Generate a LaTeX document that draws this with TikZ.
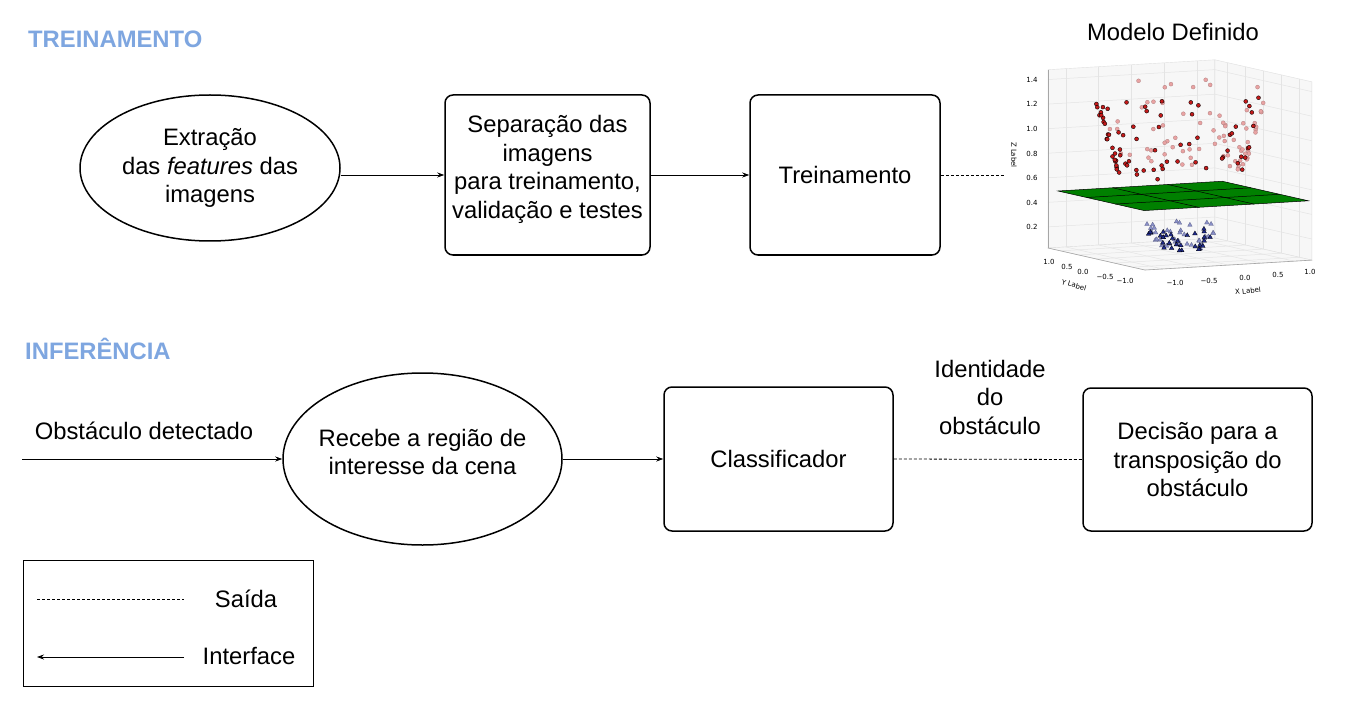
\documentclass[tikz,border=0pt]{standalone}
\usepackage{fontspec}
\setmainfont{Liberation Sans}
\newfontfamily\plotfont{DejaVu Sans}
\usetikzlibrary{arrows.meta,shapes.geometric}
\definecolor{hdrblue}{HTML}{7EA6E0}
\definecolor{plgreen}{HTML}{008000}
\definecolor{reddark}{HTML}{C41A1A}
\definecolor{redlight}{HTML}{E9A3A3}
\definecolor{redlightedge}{HTML}{B08080}
\definecolor{bluedark}{HTML}{1F2A8C}
\definecolor{bluelight}{HTML}{8A90C8}
\definecolor{panefill}{HTML}{F7F7F7}
\definecolor{gridc}{HTML}{E4E4E4}
\begin{document}
\begin{tikzpicture}[x=1pt,y=-1pt,
  txt/.style={font=\fontsize{23.8}{28.5}\selectfont, align=center, inner sep=0},
  box/.style={draw, line width=1.5pt, rounded corners=8pt, inner sep=0, font=\fontsize{23.8}{28.5}\selectfont, align=center},
  oval/.style={draw, ellipse, line width=1.5pt, inner sep=0},
  arr/.style={-{Stealth[length=7pt,width=5pt]}, line width=0.8pt},
  dsh/.style={dash pattern=on 3pt off 2pt, line width=0.8pt},
  hdr/.style={font=\bfseries\fontsize{23.8}{28}\selectfont, text=hdrblue, anchor=base west, inner sep=0},
  pane/.style={fill=panefill, draw=gray!25, line width=0.4pt},
  gridl/.style={draw=gridc, line width=0.5pt},
  axl/.style={draw=gray!70, line width=0.6pt},
  tick/.style={font=\plotfont\fontsize{7}{8}\selectfont, inner sep=0},
]
\useasboundingbox (0,0) rectangle (1348,703);
\fill[white] (0,0) rectangle (1348,703);

% ---------- headers ----------
\node[hdr] (h1) at (28,48) {TREINAMENTO};
\node[hdr] (h2) at (25,359) {INFERÊNCIA};

% ---------- training row ----------
\node[oval, minimum width=260pt, minimum height=146pt] (e1) at (210,168) {};
\node[txt] (e1t) at (210,168) {Extração\\das \textit{features} das\\imagens};
\node[box, minimum width=205pt, minimum height=160pt] (b2) at (547.5,175) {};
\node[txt] (b2t) at (547.5,169.5) {Separação das\\imagens\\para treinamento,\\validação e testes};
\node[box, minimum width=190pt, minimum height=160pt] (b3) at (845,175) {Treinamento};
\draw[arr] (e1.east |- b2.west) -- (b2.west);
\draw[arr] (b2.east) -- (b3.west);
\coordinate (pl) at (1005,175);
\draw[dsh] (b3.east) -- (pl);
\node[txt] (md) at (1173,32) {Modelo Definido};

% ---------- 3D plot ----------
\begin{scope}[shift={(1179.9,257.5)}, x={(65.7pt,3.9pt)}, y={(-35.9pt,8.15pt)}, z={(0pt,122.8pt)}]
  \def\xa{-1.27}\def\xb{1.27}\def\ya{-1.35}\def\yb{1.35}\def\za{0.028}\def\zb{1.48}
  \path[pane] (\xa,\yb,\za) -- (\xb,\yb,\za) -- (\xb,\yb,\zb) -- (\xa,\yb,\zb) -- cycle;
  \path[pane] (\xb,\ya,\za) -- (\xb,\yb,\za) -- (\xb,\yb,\zb) -- (\xb,\ya,\zb) -- cycle;
  \path[pane] (\xa,\ya,\za) -- (\xb,\ya,\za) -- (\xb,\yb,\za) -- (\xa,\yb,\za) -- cycle;
  \foreach \t in {-1,-0.5,0,0.5,1} {
    \draw[gridl] (\t,\yb,\za) -- (\t,\yb,\zb);
    \draw[gridl] (\t,\ya,\za) -- (\t,\yb,\za);
    \draw[gridl] (\xb,\t,\za) -- (\xb,\t,\zb);
    \draw[gridl] (\xa,\t,\za) -- (\xb,\t,\za);
  }
  \foreach \t in {0.2,0.4,0.6,0.8,1.0,1.2,1.4} {
    \draw[gridl] (\xa,\yb,\t) -- (\xb,\yb,\t) -- (\xb,\ya,\t);
  }
  \draw[axl] (\xa,\yb,\za) -- (\xa,\yb,\zb);
  \draw[axl] (\xa,\yb,\za) -- (\xa,\ya,\za) -- (\xb,\ya,\za);
  % blue triangles (far first, then near)
  \pgfmathsetseed{11}
  \foreach \i in {1,...,70} {
    \pgfmathsetmacro\th{360*rnd}
    \pgfmathsetmacro\rr{0.4+0.13*rand}
    \pgfmathsetmacro\px{\rr*cos(\th)}
    \pgfmathsetmacro\py{\rr*sin(\th)}
    \pgfmathsetmacro\pz{\rr*\rr}
    \pgfmathsetmacro\dep{\px+\py}
    \ifdim \dep pt > 0.05pt
      \filldraw[fill=bluelight, draw=bluelight!70!black, line width=0.3pt] (\px,\py,\pz) ++(0pt,2.6pt) -- ++(-2.3pt,-4pt) -- ++(4.6pt,0pt) -- cycle;
    \fi
  }
  \pgfmathsetseed{11}
  \foreach \i in {1,...,70} {
    \pgfmathsetmacro\th{360*rnd}
    \pgfmathsetmacro\rr{0.4+0.13*rand}
    \pgfmathsetmacro\px{\rr*cos(\th)}
    \pgfmathsetmacro\py{\rr*sin(\th)}
    \pgfmathsetmacro\pz{\rr*\rr}
    \pgfmathsetmacro\dep{\px+\py}
    \ifdim \dep pt > 0.05pt \else
      \filldraw[fill=bluedark, draw=black, line width=0.3pt] (\px,\py,\pz) ++(0pt,2.6pt) -- ++(-2.3pt,-4pt) -- ++(4.6pt,0pt) -- cycle;
    \fi
  }
  % plane
  \filldraw[fill=plgreen, draw=black, line width=0.5pt] (-1.2,-1.2,0.5) -- (1.3,-1.2,0.5) -- (1.3,1.2,0.5) -- (-1.2,1.2,0.5) -- cycle;
  \foreach \t in {-0.37,0.47} {
    \draw[black, line width=0.5pt] (\t,-1.2,0.5) -- (\t,1.2,0.5);
  }
  \foreach \t in {-0.4,0.4} {
    \draw[black, line width=0.5pt] (-1.2,\t,0.5) -- (1.3,\t,0.5);
  }
  % red dots
  \pgfmathsetseed{42}
  \foreach \i in {1,...,150} {
    \pgfmathsetmacro\th{360*rnd}
    \pgfmathsetmacro\rr{1+0.17*rand}
    \pgfmathsetmacro\px{\rr*cos(\th)}
    \pgfmathsetmacro\py{\rr*sin(\th)}
    \pgfmathsetmacro\pz{\rr*\rr}
    \pgfmathsetmacro\dep{\px+\py}
    \ifdim \dep pt > 0.1pt
      \filldraw[fill=redlight, draw=redlightedge, line width=0.3pt] (\px,\py,\pz) circle[radius=2pt];
    \fi
  }
  \pgfmathsetseed{42}
  \foreach \i in {1,...,150} {
    \pgfmathsetmacro\th{360*rnd}
    \pgfmathsetmacro\rr{1+0.17*rand}
    \pgfmathsetmacro\px{\rr*cos(\th)}
    \pgfmathsetmacro\py{\rr*sin(\th)}
    \pgfmathsetmacro\pz{\rr*\rr}
    \pgfmathsetmacro\dep{\px+\py}
    \ifdim \dep pt > 0.1pt \else
      \filldraw[fill=reddark, draw=black, line width=0.35pt] (\px,\py,\pz) circle[radius=2pt];
    \fi
  }
\end{scope}
% tick labels
\node[tick] (z14) at (1032,80) {1.4};
\node[tick] (z12) at (1032,104) {1.2};
\node[tick] (z10) at (1032,129) {1.0};
\node[tick] (z08) at (1032,154) {0.8};
\node[tick] (z06) at (1032,178) {0.6};
\node[tick] (z04) at (1032,203) {0.4};
\node[tick] (z02) at (1032,227) {0.2};
\node[tick, rotate=-90] (zl) at (1014,155) {Z Label};
\node[tick] (y1) at (1049,262) {1.0};
\node[tick] (y2) at (1067,267) {0.5};
\node[tick] (y3) at (1083,272) {0.0};
\node[tick] (y4) at (1105,277) {−0.5};
\node[tick] (y5) at (1125,281) {−1.0};
\node[tick, rotate=-16] (yl) at (1074,285) {Y Label};
\node[tick] (x1) at (1175,283) {−1.0};
\node[tick] (x2) at (1209,281) {−0.5};
\node[tick] (x3) at (1245,278) {0.0};
\node[tick] (x4) at (1278,275) {0.5};
\node[tick] (x5) at (1310,272) {1.0};
\node[tick, rotate=6] (xl) at (1248,291) {X Label};

% ---------- inference row ----------
\node[txt] (od) at (144,431) {Obstáculo detectado};
\coordinate (in0) at (22,459);
\node[oval, minimum width=279pt, minimum height=172pt] (e2) at (422.5,459) {};
\node[txt] (e2t) at (422.5,452) {Recebe a região de\\interesse da cena};
\draw[arr] (in0) -- (e2.west);
\node[box, minimum width=229pt, minimum height=144pt] (cl) at (778.5,459) {Classificador};
\draw[arr] (e2.east) -- (cl.west);
\node[box, minimum width=229pt, minimum height=143pt] (dec) at (1197.5,459.5) {Decisão para a\\transposição do\\obstáculo};
\draw[dsh] (cl.east) -- (dec.west);
\node[txt] (idt) at (990,397) {Identidade\\do\\obstáculo};

% ---------- legend ----------
\node[draw, line width=1pt, minimum width=290pt, minimum height=126pt, inner sep=0] (leg) at (168,623) {};
\coordinate (s1) at (37,599);
\coordinate (s2) at (184,599);
\draw[dsh] (s1) -- (s2);
\node[txt] (sa) at (246,599) {Saída};
\coordinate (i1) at (184,657);
\coordinate (i2) at (37,657);
\draw[arr] (i1) -- (i2);
\node[txt] (itf) at (249,656) {Interface};
\end{tikzpicture}
\end{document}
